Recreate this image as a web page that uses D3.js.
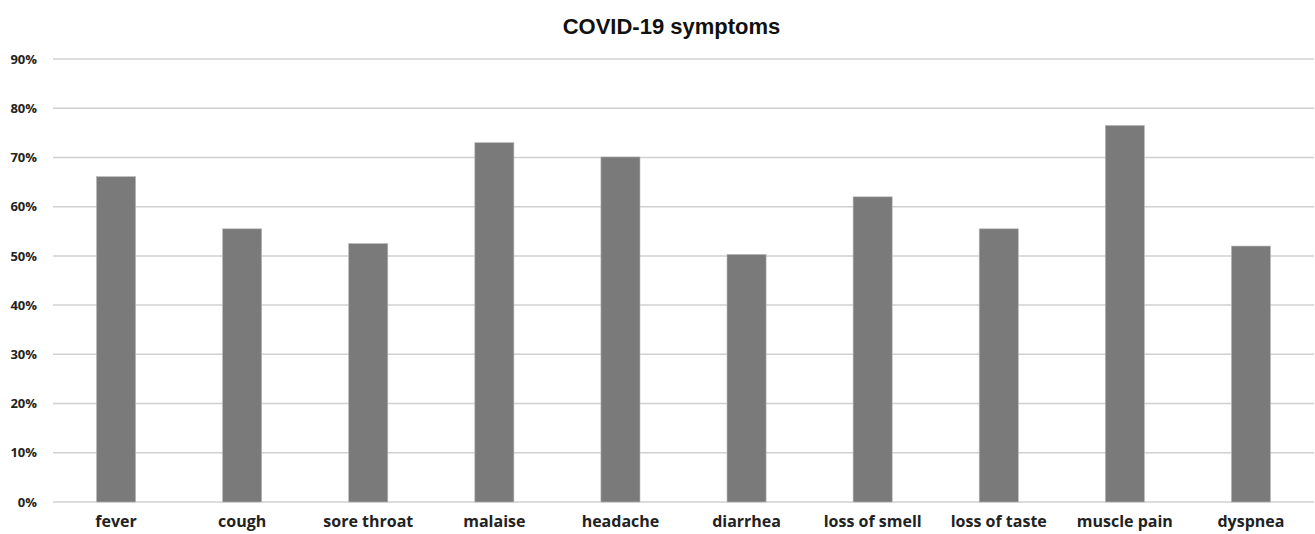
<!DOCTYPE html>
<html><head><meta charset="utf-8">
<script src="https://cdn.jsdelivr.net/npm/d3@7/dist/d3.min.js"></script>
<style>body{margin:0;background:#fff}svg{display:block}</style>
</head><body>
<svg id="chart" width="1315" height="534"></svg>
<script>
const categories = ["fever","cough","sore throat","malaise","headache","diarrhea","loss of smell","loss of taste","muscle pain","dyspnea"];
const values = [66.1, 55.5, 52.5, 73.0, 70.1, 50.3, 62.0, 55.5, 76.5, 52.0];
const yTicks = [0,10,20,30,40,50,60,70,80,90];
const title = "COVID-19 symptoms";

(function(){
const svg = d3.select("#chart");
const mL = 53, mR = 1314, mT = 59, mB = 502;
const x = d3.scaleBand().domain(categories).range([mL, mR]).paddingInner(0.69).paddingOuter(0.345);
const y = d3.scaleLinear().domain([0, 90]).range([mB, mT]);

svg.append("g").selectAll("line").data(yTicks).join("line")
  .attr("x1", mL).attr("x2", mR)
  .attr("y1", d => y(d)).attr("y2", d => y(d))
  .attr("stroke", "#d0d0d0").attr("stroke-width", 1.5);

svg.append("g").selectAll("rect").data(values).join("rect")
  .attr("x", (d,i) => x(categories[i]))
  .attr("width", x.bandwidth())
  .attr("y", d => y(d))
  .attr("height", d => y(0) - y(d))
  .attr("fill", "#7a7a7a").attr("stroke", "#b8b8b8").attr("stroke-width", 0.6);

const yAxis = svg.append("g").attr("transform", `translate(${mL-16},0)`)
  .call(d3.axisLeft(y).tickValues(yTicks).tickFormat(d => d + "%").tickSize(0).tickPadding(0));
yAxis.select(".domain").remove();
yAxis.selectAll("text").attr("font-family", "'Open Sans', sans-serif").attr("font-weight", "bold")
  .attr("font-size", 13).attr("fill", "#222");

const xAxis = svg.append("g").attr("transform", `translate(0,${mB})`)
  .call(d3.axisBottom(x).tickSize(0).tickPadding(14));
xAxis.select(".domain").remove();
xAxis.selectAll("text").attr("font-family", "'Open Sans', sans-serif").attr("font-weight", "bold")
  .attr("font-size", 16).attr("fill", "#222");

svg.append("text").attr("x", 671.5).attr("y", 34).attr("text-anchor", "middle")
  .attr("font-family", "'Liberation Sans', Arial, sans-serif").attr("font-weight", "bold")
  .attr("font-size", 22).attr("fill", "#111").text(title);
})();
</script>
</body></html>
